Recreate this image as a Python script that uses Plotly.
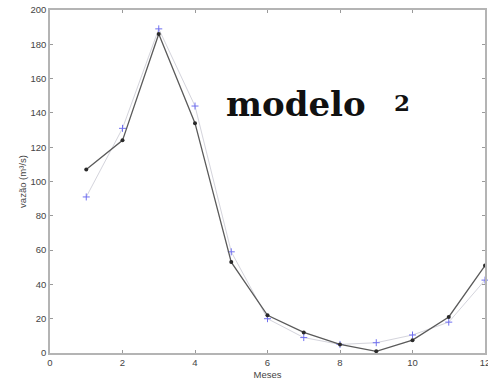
import plotly.graph_objects as go

meses = [1, 2, 3, 4, 5, 6, 7, 8, 9, 10, 11, 12]
vazao_modelo = [107, 124, 186, 134, 53, 22, 12, 5, 1, 7.5, 21, 51]
vazao_observada = [91, 131, 189, 144, 59, 20, 9, 5, 6, 10.5, 18, 42.5]
x_ticks = [0, 2, 4, 6, 8, 10, 12]
y_ticks = [0, 20, 40, 60, 80, 100, 120, 140, 160, 180, 200]

fig = go.Figure()
fig.add_trace(go.Scatter(
    x=meses, y=vazao_observada, mode="lines+markers",
    line=dict(color="#d4d4dc", width=1),
    marker=dict(symbol="cross-thin", size=5, line=dict(color="#7070f0", width=1), color="#7070f0"),
    showlegend=False, cliponaxis=False,
))
fig.add_trace(go.Scatter(
    x=meses, y=vazao_modelo, mode="lines+markers",
    line=dict(color="#5a5a5a", width=1.3),
    marker=dict(symbol="circle", size=4, color="#2a2a2a"),
    showlegend=False, cliponaxis=False,
))

axis_common = dict(
    showgrid=False, zeroline=False, showline=True, mirror="ticks",
    linecolor="#b4b4b4", linewidth=1.5, ticks="inside", ticklen=3,
    tickcolor="#9a9a9a", tickfont=dict(family="Liberation Sans", size=9.5, color="#444"),
    automargin=False, ticklabeloverflow="allow",
)
fig.update_xaxes(range=[0, 12], tickvals=x_ticks, **axis_common,
                 title=dict(text="Meses", font=dict(family="Liberation Sans", size=9.5, color="#444"), standoff=4))
fig.update_yaxes(range=[0, 200], tickvals=y_ticks, **axis_common,
                 title=dict(text="vazão (m³/s)", font=dict(family="Liberation Sans", size=9.5, color="#444"), standoff=2))

fig.add_annotation(text="<b>modelo</b>", xref="paper", yref="paper", x=0.565, y=0.726,
                   xanchor="center", yanchor="middle",
                   showarrow=False, font=dict(family="DejaVu Serif", size=34, color="#111"))
fig.add_annotation(text="<b>2</b>", xref="paper", yref="paper", x=0.809, y=0.729,
                   xanchor="center", yanchor="middle",
                   showarrow=False, font=dict(family="DejaVu Serif", size=23, color="#111"))

fig.update_layout(
    width=488, height=385,
    margin=dict(l=50, r=3, t=10, b=32),
    paper_bgcolor="white", plot_bgcolor="white",
)
fig.write_html(
    "out.html",
    config={"displayModeBar": False},
    post_script="document.body.style.margin='0';document.documentElement.style.overflow='hidden';",
)
